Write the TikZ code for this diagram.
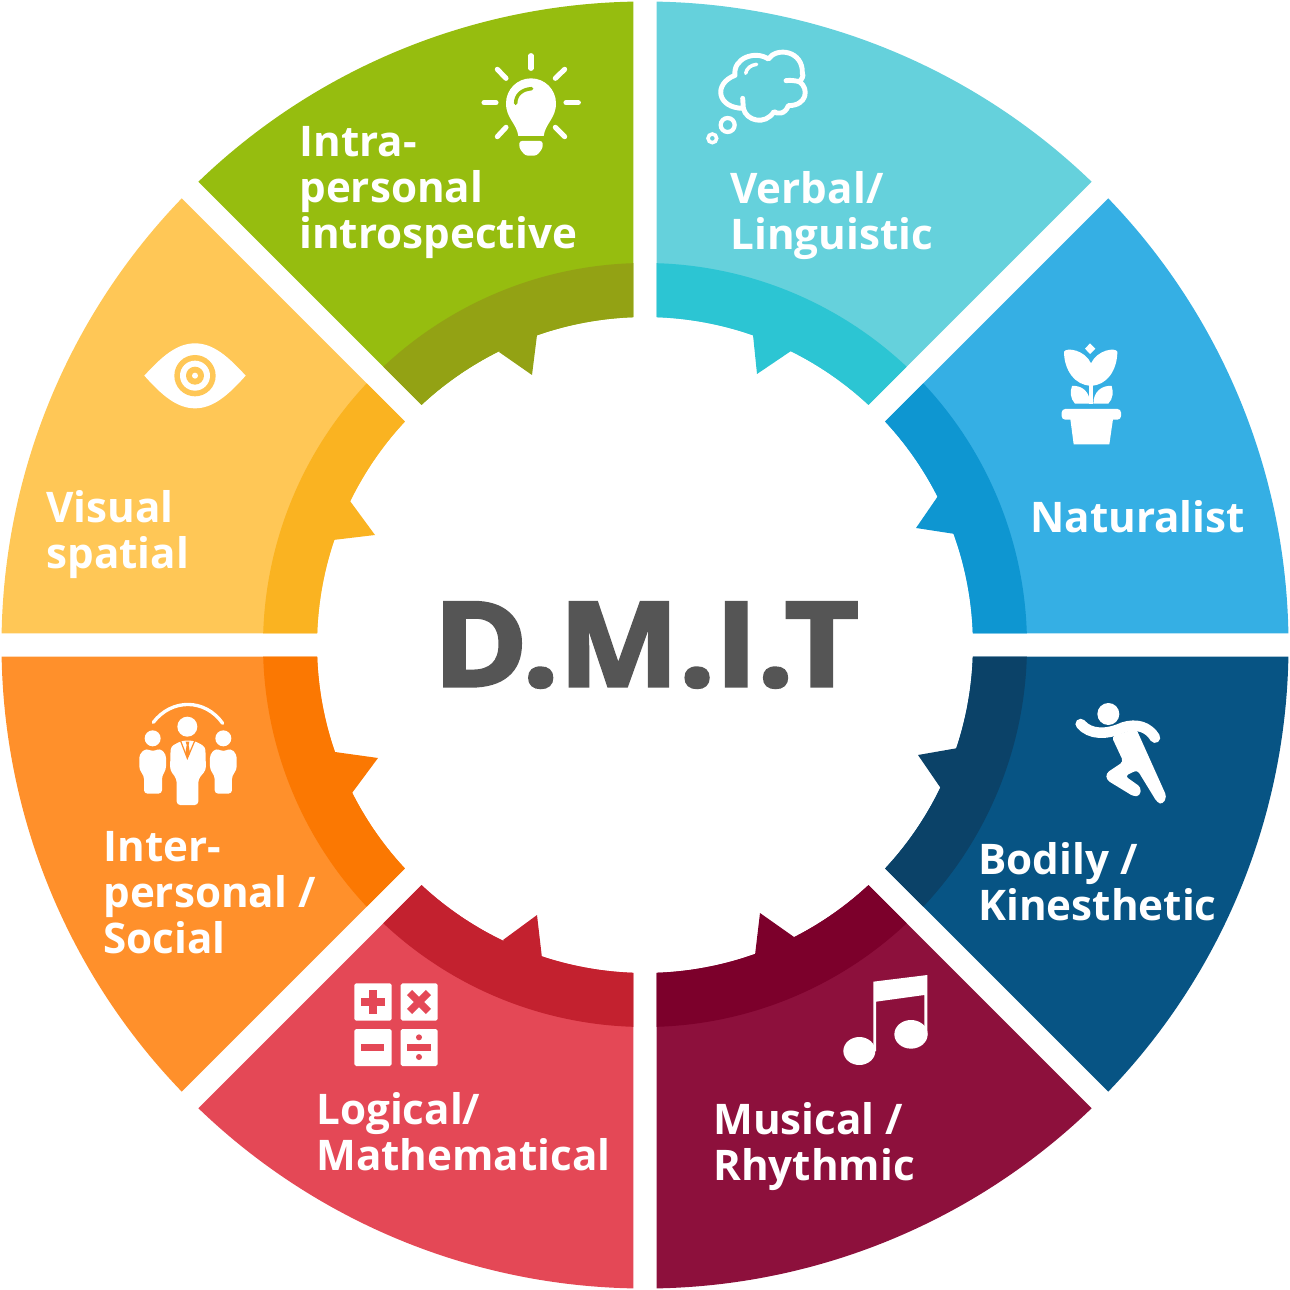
\documentclass[tikz,border=0pt]{standalone}
\usepackage{fontspec}
\setmainfont{Open Sans}
\newfontfamily\ttlfont[BoldFeatures={FakeBold=3,FakeStretch=1.09}]{Open Sans}
\definecolor{natL}{HTML}{35AFE4}\definecolor{natD}{HTML}{0E96D1}
\definecolor{verL}{HTML}{65D1DC}\definecolor{verD}{HTML}{2CC5D3}
\definecolor{griL}{HTML}{96BD0F}\definecolor{griD}{HTML}{93A214}
\definecolor{yelL}{HTML}{FFC756}\definecolor{yelD}{HTML}{FAB321}
\definecolor{oraL}{HTML}{FF902B}\definecolor{oraD}{HTML}{FB7802}
\definecolor{redL}{HTML}{E44856}\definecolor{redD}{HTML}{C3212F}
\definecolor{marL}{HTML}{8D103C}\definecolor{marD}{HTML}{7C002B}
\definecolor{navL}{HTML}{075484}\definecolor{navD}{HTML}{0B4268}
\definecolor{titlegray}{HTML}{555555}
\newcommand\gapw{11.7}
\newcommand\band[5]{%
  \fill[#5] ({#1+asin(\gapw/#4)}:#4)
    arc[start angle={#1+asin(\gapw/#4)},end angle={#2-asin(\gapw/#4)},radius=#4]
    -- ({#2-asin(\gapw/#3)}:#3)
    arc[start angle={#2-asin(\gapw/#3)},end angle={#1+asin(\gapw/#3)},radius=#3]
    -- cycle;}
\newcommand\petal[4]{\band{#1}{#2}{328}{643.5}{#3}\band{#1}{#2}{328}{382}{#4}}
\tikzset{
  lbl/.style={font=\fontsize{24}{26}\selectfont\bfseries,text=white,inner sep=0pt,anchor=base west},
  ttl/.style={font=\ttlfont\fontsize{66.5}{70}\selectfont\bfseries,text=titlegray,inner sep=0pt},
  zi/.style 2 args={shift={(#1,-#2)},x=0.0066667cm,y=-0.0066667cm},
  ray/.style={draw=white,line width=2.9pt,line cap=round},
}
\begin{document}
\begin{tikzpicture}[x=0.02cm,y=0.02cm]
\useasboundingbox (0,-1290) rectangle (1290,0);
\begin{scope}[shift={(645,-645)}]
\petal{0}{45}{natL}{natD}
\petal{45}{90}{verL}{verD}
\petal{90}{135}{griL}{griD}
\petal{135}{180}{yelL}{yelD}
\petal{180}{225}{oraL}{oraD}
\petal{225}{270}{redL}{redD}
\petal{270}{315}{marL}{marD}
\petal{315}{360}{navL}{navD}
\end{scope}
% teeth
\fill[griD] (499,-352)--(532,-375)--(537,-335)--(515,-325)--cycle;
\fill[verD] (753,-335)--(757,-374)--(791,-351)--(775,-325)--cycle;
\fill[natD] (938,-496)--(916,-528)--(955,-534)--(965,-510)--cycle;
\fill[navD] (942,-790)--(918,-755)--(958,-748)--(965,-775)--cycle;
\fill[marD] (794,-937)--(760,-913)--(755,-955)--(775,-965)--cycle;
\fill[redD] (503,-940)--(537,-915)--(542,-958)--(520,-965)--cycle;
\fill[oraD] (352,-793)--(378,-758)--(335,-752)--(325,-775)--cycle;
\fill[yelD] (350,-501)--(375,-535)--(333,-540)--(325,-515)--cycle;
% title
\node[ttl] (title) at (646,-645) {D.M.I.T};
% labels
\node[lbl] (l1a) at (299,-157) {Intra-};
\node[lbl] (l1b) at (299,-203) {personal};
\node[lbl] (l1c) at (299,-249) {introspective};
\node[lbl] (l2a) at (730,-204) {Verbal/};
\node[lbl] (l2b) at (730,-250) {Linguistic};
\node[lbl] (l3a) at (1030,-532) {Naturalist};
\node[lbl] (l4a) at (978,-874) {Bodily /};
\node[lbl] (l4b) at (978,-920) {Kinesthetic};
\node[lbl] (l5a) at (713,-1134) {Musical /};
\node[lbl] (l5b) at (713,-1180) {Rhythmic};
\node[lbl] (l6a) at (316,-1124) {Logical/};
\node[lbl] (l6b) at (316,-1170) {Mathematical};
\node[lbl] (l7a) at (103,-861) {Inter-};
\node[lbl] (l7b) at (103,-907) {personal /};
\node[lbl] (l7c) at (103,-953) {Social};
\node[lbl] (l8a) at (46,-522) {Visual};
\node[lbl] (l8b) at (46,-568) {spatial};
% bulb
\begin{scope}[zi={470}{40}]
\draw[ray] (183,47)--(183,85);
\draw[ray] (42,188)--(78,188);
\draw[ray] (288,188)--(325,188);
\draw[ray] (82,88)--(108,115);
\draw[ray] (284,88)--(256,115);
\draw[ray] (82,290)--(108,262);
\draw[ray] (284,290)--(256,262);
\fill[white] (145,288) .. controls (140,250) and (108,235) .. (108,190)
  arc[start angle=180,end angle=360,radius=75]
  .. controls (258,235) and (226,250) .. (221,288) -- cycle;
\fill[white,rounded corners=1.5pt] (148,303)--(218,303)--(218,325)--(200,347)--(166,347)--(148,325)--cycle;
\draw[griL,line width=2pt,line cap=round] (137,190) .. controls (137,165) and (155,148) .. (185,146);
\end{scope}
% cloud
\begin{scope}[zi={700}{40}]
\draw[white,line width=2.8pt,line cap=round,line join=round]
 (105,106) .. controls (98,55) and (165,30) .. (205,57)
 .. controls (230,20) and (310,32) .. (307,100)
 .. controls (312,108) and (305,118) .. (298,125)
 .. controls (328,145) and (322,197) .. (265,197)
 .. controls (255,225) and (230,222) .. (222,215)
 .. controls (195,258) and (138,242) .. (130,205)
 .. controls (52,205) and (38,132) .. (105,106);
\draw[white,line width=2.8pt,line cap=round] (130,205)--(128,175);
\draw[white,line width=2.8pt,line cap=round] (298,125) .. controls (285,122) and (270,120) .. (258,122);
\draw[white,line width=2pt,line cap=round] (137,100) .. controls (140,85) and (152,75) .. (170,73);
\draw[white,line width=2.4pt] (83,255) circle[radius=21];
\draw[white,line width=2pt] (37,295) circle[radius=13];
\end{scope}
% flower
\begin{scope}[zi={1040}{335}]
\fill[white] (150,25)--(166,41)--(150,57)--(135,41)--cycle;
\fill[white] (72,50) .. controls (80,36) and (135,45) .. (153,85)
 .. controls (172,45) and (225,36) .. (232,50)
 .. controls (232,105) and (200,152) .. (153,152)
 .. controls (105,152) and (72,105) .. (72,50) -- cycle;
\fill[white] (147,148) rectangle (160,206);
\fill[white] (96,153) .. controls (125,150) and (150,170) .. (150,206)
 -- (105,206) .. controls (90,190) and (90,170) .. (96,153) -- cycle;
\fill[white] (215,153) .. controls (186,150) and (160,170) .. (160,206)
 -- (205,206) .. controls (220,190) and (220,170) .. (215,153) -- cycle;
\fill[white,rounded corners=2pt] (65,222) rectangle (243,254);
\fill[white] (90,245)--(101,328)--(208,328)--(220,245)--cycle;
\end{scope}
% runner
\begin{scope}[zi={1060}{690}]
\fill[white] (145,72) circle[radius=33];
\draw[white,line width=6pt,line cap=round,line join=round]
 (62,102) .. controls (90,135) and (140,135) .. (190,112) .. controls (230,100) and (265,110) .. (285,143);
\fill[white,rounded corners=2pt] (155,140)--(228,115)--(320,320)--(308,343)--(292,338)--(232,240)--(195,258)--(243,292)--(240,317)--(222,320)--(140,270)--(138,250)--(190,215)--cycle;
\end{scope}
% music
\begin{scope}[zi={830}{965}]
\fill[white] (130,50)--(292,30)--(292,210)--(283,210)--(283,90)--(138,110)--(138,258)--(130,258)--cycle;
\fill[white] (88,258) ellipse[x radius=48,y radius=42];
\fill[white] (243,208) ellipse[x radius=50,y radius=43];
\end{scope}
% calculator
\begin{scope}[zi={345}{975}]
\fill[white,rounded corners=1pt] (28,25) rectangle (140,137);
\fill[white,rounded corners=1pt] (167,25) rectangle (278,137);
\fill[white,rounded corners=1pt] (28,162) rectangle (140,273);
\fill[white,rounded corners=1pt] (167,162) rectangle (278,273);
\fill[redL] (48,70) rectangle (120,92);
\fill[redL] (73,45) rectangle (95,117);
\fill[redL,rotate around={45:(222,81)}] (182,70) rectangle (262,92);
\fill[redL,rotate around={45:(222,81)}] (211,41) rectangle (233,121);
\fill[redL] (48,206) rectangle (118,228);
\fill[redL] (187,207) rectangle (257,227);
\fill[redL] (222,187) circle[radius=9];
\fill[redL] (222,246) circle[radius=9];
\end{scope}
% people
\begin{scope}[zi={130}{695}]
\draw[white,line width=1.9pt,line cap=round] (70,82) .. controls (125,10) and (225,10) .. (278,85);
\fill[white] (172,95) circle[radius=30];
\fill[white] (68,130) circle[radius=24];
\fill[white] (280,130) circle[radius=24];
\fill[white,rounded corners=2pt] (122,155)--(155,137)--(192,137)--(226,155)--(228,225)--(205,252)--(205,330)--(140,330)--(140,252)--(120,225)--cycle;
\fill[white,rounded corners=2pt] (28,178)--(48,160)--(68,170)--(90,160)--(108,178)--(108,225)--(96,242)--(96,296)--(42,296)--(42,242)--(28,225)--cycle;
\fill[white,rounded corners=2pt] (240,178)--(258,160)--(280,170)--(302,160)--(320,178)--(320,225)--(306,242)--(306,296)--(254,296)--(254,242)--(240,225)--cycle;
\draw[oraL,line width=0.7pt] (152,138)--(172,190)--(194,138);
\fill[oraL] (167,140)--(178,140)--(176,150)--(180,175)--(173,188)--(166,175)--(170,150)--cycle;
\end{scope}
% eye
\begin{scope}[zi={135}{335}]
\fill[white] (28,122) .. controls (80,65) and (125,25) .. (180,25) .. controls (235,25) and (280,65) .. (332,122)
 .. controls (280,180) and (235,220) .. (180,220) .. controls (125,220) and (80,180) .. (28,122) -- cycle;
\fill[yelL] (180,122) circle[radius=62];
\fill[white] (180,122) circle[radius=45];
\fill[yelL] (180,122) circle[radius=27];
\fill[white] (180,122) circle[radius=9];
\end{scope}
\end{tikzpicture}
\end{document}
